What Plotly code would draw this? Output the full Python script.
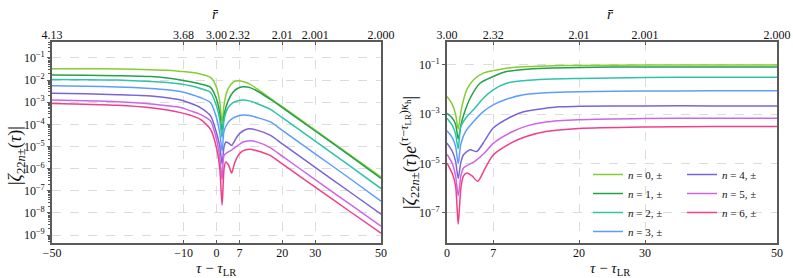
import numpy as np
import plotly.graph_objects as go

# ---------------- data (values are log10 of |zeta|) ----------------
SERIES_LABELS = ["n = 0, ±", "n = 1, ±", "n = 2, ±", "n = 3, ±", "n = 4, ±", "n = 5, ±", "n = 6, ±"]
SERIES_COLORS = ["#86cd34", "#27a04b", "#2ec4a6", "#5e9dff", "#7b63d8", "#cd66e4", "#f23f88"]

# left panel: |zeta_22n(tau)| vs tau - tau_LR
TAU_L_N0 = [-50, -40, -30, -20, -15, -10.9, -7.9, -4.9, -1.8, 0, 1.0, 1.7, 2.4, 3.5, 5, 6.5, 8, 10, 13, 16.4, 20, 30, 40, 50]
LOG_L_N0 = [-1.49, -1.49, -1.50, -1.53, -1.56, -1.61, -1.65, -1.73, -1.88, -2.33, -3.0, -3.9, -3.0, -2.4, -2.1, -2.03, -2.06, -2.17, -2.47, -2.83, -3.2, -4.26, -5.32, -6.38]

TAU_L_N1 = [-50, -40, -30, -20, -15, -10.9, -7.9, -4.9, -1.8, 0, 1.0, 1.7, 2.4, 3.5, 5, 6.5, 8, 10, 13, 16.4, 20, 30, 40, 50]
LOG_L_N1 = [-1.77, -1.78, -1.80, -1.84, -1.91, -2.0, -2.08, -2.18, -2.33, -2.86, -3.5, -4.3, -3.5, -2.95, -2.55, -2.37, -2.3, -2.33, -2.55, -2.87, -3.24, -4.3, -5.36, -6.44]

TAU_L_N2 = [-50, -40, -30, -20, -15, -10.9, -7.9, -4.9, -1.8, 0, 1.0, 1.7, 2.4, 3.5, 5, 6.5, 8, 10, 13, 16.4, 20, 30, 40, 50]
LOG_L_N2 = [-1.97, -1.98, -2.0, -2.06, -2.11, -2.18, -2.26, -2.38, -2.56, -3.17, -3.8, -4.6, -3.7, -3.25, -3.02, -2.93, -2.9, -2.94, -3.1, -3.32, -3.7, -4.76, -5.82, -6.9]

TAU_L_N3 = [-50, -40, -30, -20, -15, -10.9, -7.9, -4.9, -1.8, 0, 1.0, 1.7, 2.3, 3.5, 5, 6.5, 8.5, 10, 13, 16.4, 20, 30, 40, 50]
LOG_L_N3 = [-2.26, -2.28, -2.31, -2.38, -2.44, -2.52, -2.64, -2.79, -3.02, -3.7, -4.4, -5.2, -4.3, -3.92, -3.72, -3.62, -3.58, -3.6, -3.72, -3.89, -4.27, -5.33, -6.39, -7.47]

TAU_L_N4 = [-50, -40, -30, -20, -15, -10.9, -7.9, -4.9, -1.8, 0, 1.0, 1.7, 2.3, 2.9, 3.7, 4.55, 5.5, 6.5, 8, 9.8, 12, 16.4, 20, 30, 40, 50]
LOG_L_N4 = [-2.60, -2.62, -2.66, -2.72, -2.80, -2.9, -3.05, -3.24, -3.62, -4.38, -5.0, -5.8, -5.0, -4.8, -4.85, -4.95, -4.75, -4.5, -4.3, -4.2, -4.25, -4.5, -4.88, -5.94, -7.0, -8.06]

TAU_L_N5 = [-50, -40, -30, -20, -15, -10.9, -7.9, -4.9, -1.8, 0, 1.0, 1.7, 2.3, 3.5, 4.7, 6.5, 8.1, 10, 12, 16.4, 20, 30, 40, 50]
LOG_L_N5 = [-2.90, -2.93, -2.98, -3.08, -3.16, -3.24, -3.39, -3.55, -3.85, -4.68, -5.5, -6.5, -5.4, -5.25, -5.15, -4.95, -4.8, -4.74, -4.78, -5.06, -5.44, -6.5, -7.55, -8.6]

TAU_L_N6 = [-50, -40, -30, -20, -15, -10.9, -7.9, -4.9, -1.8, 0, 1.0, 1.7, 2.3, 2.8, 3.7, 4.6, 5.5, 6.8, 8, 10, 12, 16.4, 20, 30, 40, 50]
LOG_L_N6 = [-3.06, -3.09, -3.14, -3.25, -3.35, -3.47, -3.59, -3.77, -4.23, -5.06, -6.0, -7.64, -6.0, -5.7, -5.85, -6.2, -5.75, -5.36, -5.2, -5.12, -5.18, -5.41, -5.79, -6.84, -7.88, -8.92]

# right panel: |zeta_22n(tau) e^{(tau - tau_LR) kappa_h}|
TAU_R_N0 = [0, 0.8, 1.3, 1.7, 2.1, 2.5, 3.0, 4.0, 5.5, 7, 9, 11.6, 15, 20, 30, 40, 50]
LOG_R_N0 = [-2.28, -2.6, -3.0, -3.6, -2.9, -2.42, -2.0, -1.61, -1.33, -1.23, -1.13, -1.07, -1.04, -1.02, -1.0, -1.0, -1.0]

TAU_R_N1 = [0, 0.8, 1.3, 1.7, 2.1, 2.5, 3.5, 5, 7, 9, 11.6, 15, 20, 30, 40, 50]
LOG_R_N1 = [-2.96, -3.15, -3.4, -4.0, -3.45, -3.05, -2.35, -1.74, -1.47, -1.27, -1.18, -1.13, -1.1, -1.08, -1.08, -1.08]

TAU_R_N2 = [0, 0.8, 1.3, 1.7, 2.1, 3.0, 4.0, 5.5, 7, 9, 11.6, 15, 20, 30, 40, 50]
LOG_R_N2 = [-3.16, -3.45, -3.8, -4.4, -3.5, -3.1, -2.82, -2.35, -2.01, -1.74, -1.64, -1.58, -1.55, -1.51, -1.5, -1.5]

TAU_R_N3 = [0, 0.8, 1.3, 1.7, 2.1, 2.8, 4, 5.5, 7, 9, 11.6, 15, 20, 30, 40, 50]
LOG_R_N3 = [-3.67, -3.95, -4.3, -5.0, -4.2, -3.7, -3.3, -2.89, -2.62, -2.39, -2.21, -2.13, -2.09, -2.06, -2.05, -2.05]

TAU_R_N4 = [0, 0.8, 1.3, 1.7, 2.1, 2.5, 3.5, 4.5, 5.76, 7, 9.8, 11.6, 13.3, 17, 20, 30, 40, 50]
LOG_R_N4 = [-4.17, -4.5, -4.9, -5.6, -4.95, -4.64, -4.44, -4.51, -4.05, -3.56, -3.09, -2.9, -2.82, -2.7, -2.68, -2.66, -2.66, -2.66]

TAU_R_N5 = [0, 0.8, 1.3, 1.7, 2.1, 2.5, 4.2, 5.76, 7, 9.8, 12, 15, 20, 30, 40, 50]
LOG_R_N5 = [-4.62, -5.0, -5.5, -6.3, -5.5, -5.18, -4.91, -4.55, -4.18, -3.72, -3.48, -3.31, -3.22, -3.17, -3.16, -3.16]

TAU_R_N6 = [0, 0.8, 1.3, 1.7, 2.1, 2.5, 3.0, 3.8, 4.65, 5.76, 7, 9.8, 12, 15, 20, 30, 40, 50]
LOG_R_N6 = [-4.98, -5.4, -5.9, -7.45, -6.0, -5.5, -5.38, -5.5, -5.72, -5.2, -4.65, -4.15, -3.9, -3.7, -3.58, -3.52, -3.5, -3.5]

# axis ticks
X_TICKS_LEFT = [-50, -10, 0, 7, 20, 30, 50]
RBAR_LABELS_LEFT = ["4.13", "3.68", "3.00", "2.32", "2.01", "2.001", "2.000"]
X_TICKS_RIGHT = [0, 7, 20, 30, 50]
RBAR_LABELS_RIGHT = ["3.00", "2.32", "2.01", "2.001", "2.000"]
Y_EXP_LEFT = [-9, -8, -7, -6, -5, -4, -3, -2, -1]
Y_EXP_RIGHT = [-7, -5, -3, -1]

LEFT_SERIES = [(TAU_L_N0, LOG_L_N0), (TAU_L_N1, LOG_L_N1), (TAU_L_N2, LOG_L_N2), (TAU_L_N3, LOG_L_N3),
               (TAU_L_N4, LOG_L_N4), (TAU_L_N5, LOG_L_N5), (TAU_L_N6, LOG_L_N6)]
RIGHT_SERIES = [(TAU_R_N0, LOG_R_N0), (TAU_R_N1, LOG_R_N1), (TAU_R_N2, LOG_R_N2), (TAU_R_N3, LOG_R_N3),
                (TAU_R_N4, LOG_R_N4), (TAU_R_N5, LOG_R_N5), (TAU_R_N6, LOG_R_N6)]

# ---------------- figure ----------------
W, H = 793, 278
FONT = "Liberation Serif"
FRAME = "#5a5a5a"
GRID = "#dcdcdc"
TOP, BOT = 42, 35
PH = H - TOP - BOT

def px_x(x):
    return x / W

def px_y(y):
    # pixel row (from top of figure) -> paper y (relative to plot area)
    return (H - BOT - y) / PH

fig = go.Figure()

for i, (t, lg) in enumerate(LEFT_SERIES):
    fig.add_trace(go.Scatter(x=t, y=10.0 ** np.array(lg), mode="lines",
                             line=dict(color=SERIES_COLORS[i], width=1.5, shape="spline", smoothing=0.7),
                             xaxis="x", yaxis="y", showlegend=False, hoverinfo="skip"))

for i, (t, lg) in enumerate(RIGHT_SERIES):
    lab = SERIES_LABELS[i].replace("n", "<i>n</i>", 1)
    fig.add_trace(go.Scatter(x=t, y=10.0 ** np.array(lg), mode="lines", name=lab,
                             line=dict(color=SERIES_COLORS[i], width=1.5, shape="spline", smoothing=0.7),
                             xaxis="x3", yaxis="y3", showlegend=True,
                             legend="legend" if i < 4 else "legend2", hoverinfo="skip"))

# dummy traces to activate top axes
fig.add_trace(go.Scatter(x=[X_TICKS_LEFT[0], X_TICKS_LEFT[-1]], y=[None, None], xaxis="x2", yaxis="y",
                         showlegend=False, hoverinfo="skip"))
fig.add_trace(go.Scatter(x=[X_TICKS_RIGHT[0], X_TICKS_RIGHT[-1]], y=[None, None], xaxis="x4", yaxis="y3",
                         showlegend=False, hoverinfo="skip"))

L0, L1 = 52 / W, 381 / W
R0, R1 = 447 / W, 777 / W

tickfont = dict(family=FONT, size=12, color="#111")

common_x = dict(showgrid=True, gridcolor=GRID, griddash="dash", gridwidth=0.8, zeroline=False,
                showline=True, mirror=True, linecolor=FRAME, linewidth=1.6, automargin=False,
                ticks="inside", ticklen=3, tickcolor=FRAME, tickfont=tickfont, tickangle=0,
                ticklabelstandoff=-2)
common_top = dict(showgrid=False, zeroline=False, showline=False, ticks="inside", ticklen=3,
                  tickcolor=FRAME, tickfont=tickfont, side="top", automargin=False, tickangle=0)
common_y = dict(type="log", domain=[0, 1], showgrid=True, gridcolor=GRID, griddash="dash", gridwidth=0.8,
                zeroline=False, showline=True, mirror=True, linecolor=FRAME, linewidth=1.6,
                ticks="outside", ticklen=3, tickcolor=FRAME, tickfont=tickfont, automargin=False)

def pow_lbl(e):
    return "10<sup>\u2212%d</sup>" % (-e)

minor_left = [m * 10.0 ** e for e in range(-10, 0) for m in range(2, 10)]

legend_common = dict(xanchor="left", yanchor="top", bgcolor="rgba(0,0,0,0)", borderwidth=0,
                     itemwidth=30, font=dict(family=FONT, size=11, color="#111"), tracegroupgap=0)

fig.update_layout(
    width=W, height=H,
    margin=dict(l=0, r=0, t=TOP, b=BOT, autoexpand=False),
    paper_bgcolor="white", plot_bgcolor="white",
    font=dict(family=FONT, size=12, color="#111"),
    xaxis=dict(domain=[L0, L1], range=[-50, 50], tickmode="array", tickvals=X_TICKS_LEFT,
               anchor="y", **common_x),
    xaxis2=dict(overlaying="x", anchor="y", range=[-50, 50], tickmode="array",
                tickvals=X_TICKS_LEFT, ticktext=RBAR_LABELS_LEFT, **common_top),
    yaxis=dict(range=[-9.36, -0.28], anchor="x",
               tickmode="array", tickvals=[10.0 ** e for e in Y_EXP_LEFT],
               ticktext=[pow_lbl(e) for e in Y_EXP_LEFT],
               minor=dict(tickmode="array", tickvals=minor_left, ticks="outside", ticklen=2,
                          tickcolor=FRAME, showgrid=False),
               **common_y),
    xaxis3=dict(domain=[R0, R1], range=[0, 50], tickmode="array", tickvals=X_TICKS_RIGHT,
                anchor="y3", **common_x),
    xaxis4=dict(overlaying="x3", anchor="y3", range=[0, 50], tickmode="array",
                tickvals=X_TICKS_RIGHT, ticktext=RBAR_LABELS_RIGHT, **common_top),
    yaxis3=dict(range=[-8.22, -0.07], anchor="x3",
                tickmode="array", tickvals=[10.0 ** e for e in Y_EXP_RIGHT],
                ticktext=[pow_lbl(e) for e in Y_EXP_RIGHT],
                **common_y),
    legend=dict(x=px_x(588), y=px_y(160), **legend_common),
    legend2=dict(x=px_x(682), y=px_y(160), **legend_common),
)

ann_font = dict(family=FONT, size=15, color="#111")
yt_font = dict(family=FONT, size=18, color="#111")
annotations = [
    dict(text="<i>τ</i> \u2212 <i>τ</i><sub>LR</sub>", x=216, y=269, angle=0, f=ann_font),
    dict(text="<i>τ</i> \u2212 <i>τ</i><sub>LR</sub>", x=610, y=269, angle=0, f=ann_font),
    dict(text="<i>r̄</i>", x=215, y=14, angle=0, f=ann_font),
    dict(text="<i>r̄</i>", x=610, y=14, angle=0, f=ann_font),
    dict(text="|<i>ζ</i><sub>22<i>n</i>±</sub>(<i>τ</i>)|", x=16, y=156, angle=-90, f=yt_font),
    dict(text="|<i>ζ</i><sub>22<i>n</i>±</sub>(<i>τ</i>)<i>e</i><sup>(<i>τ</i>\u2212<i>τ</i><sub>LR</sub>)<i>κ</i><sub>h</sub></sup>|",
         x=409, y=153, angle=-90, f=yt_font),
]
for a in annotations:
    fig.add_annotation(text=a["text"], x=px_x(a["x"]), y=px_y(a["y"]), xref="paper", yref="paper",
                       xanchor="center", yanchor="middle", showarrow=False, font=a["f"],
                       textangle=a["angle"])

fig.write_html("out.html", config={"displayModeBar": False},
               post_script="document.body.style.margin='0px';document.body.style.overflow='hidden';")
